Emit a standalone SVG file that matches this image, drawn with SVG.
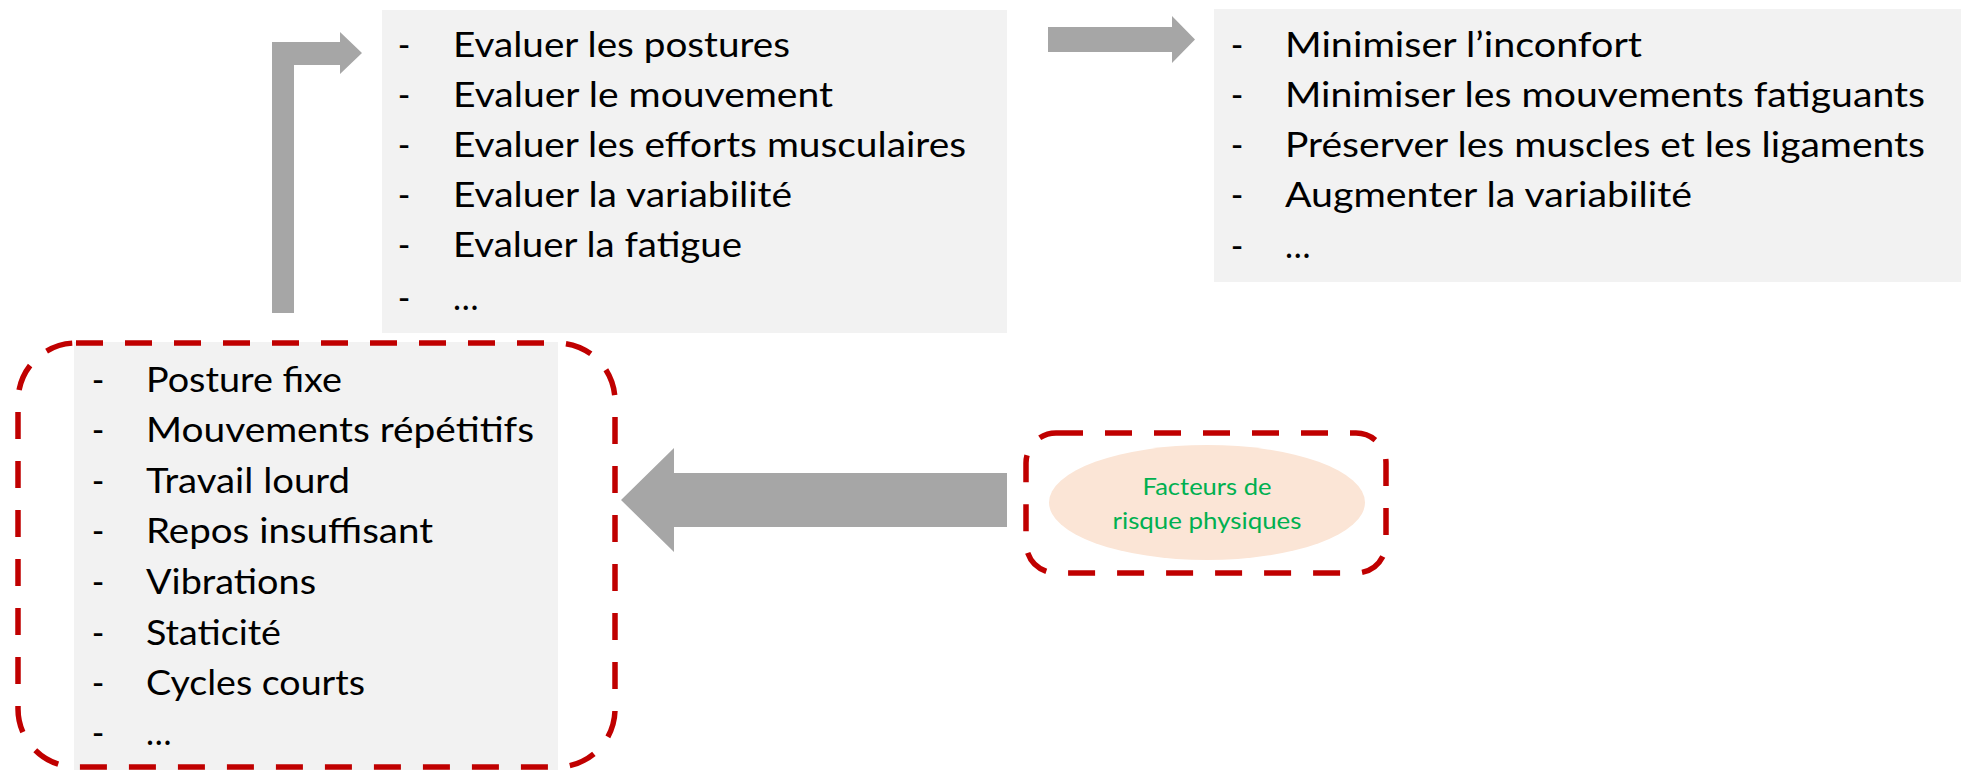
<svg xmlns="http://www.w3.org/2000/svg" width="1961" height="770" viewBox="0 0 1961 770">
  <style>
    .box { fill: #F2F2F2; }
    .frame { fill: none; stroke: #C00000; stroke-width: 5.5; stroke-dasharray: 27 22; }
    .arrow { fill: #A6A6A6; }
    .item { font-family: Lato, "Open Sans", "Liberation Sans", sans-serif; font-size: 34px; fill: #000; }
    .bullet { font-family: Lato, "Open Sans", "Liberation Sans", sans-serif; font-size: 34px; fill: #000; text-anchor: middle; }
    .label { font-family: Lato, "Open Sans", "Liberation Sans", sans-serif; font-size: 23px; fill: #00B050; text-anchor: middle; }
  </style>

  <!-- evaluation list -->
  <g id="evaluer">
    <rect class="box" x="382" y="10" width="625" height="323"/>
    <text class="bullet" x="404" y="57">-</text>
    <text class="bullet" x="404" y="107">-</text>
    <text class="bullet" x="404" y="157">-</text>
    <text class="bullet" x="404" y="207">-</text>
    <text class="bullet" x="404" y="257">-</text>
    <text class="bullet" x="404" y="310">-</text>
    <text class="item" x="453" y="57" textLength="337" lengthAdjust="spacingAndGlyphs">Evaluer les postures</text>
    <text class="item" x="453" y="107" textLength="380" lengthAdjust="spacingAndGlyphs">Evaluer le mouvement</text>
    <text class="item" x="453" y="157" textLength="513" lengthAdjust="spacingAndGlyphs">Evaluer les efforts musculaires</text>
    <text class="item" x="453" y="207" textLength="339" lengthAdjust="spacingAndGlyphs">Evaluer la variabilité</text>
    <text class="item" x="453" y="257" textLength="289" lengthAdjust="spacingAndGlyphs">Evaluer la fatigue</text>
    <text class="item" x="453" y="310">…</text>
  </g>

  <!-- goals list -->
  <g id="objectifs">
    <rect class="box" x="1214" y="9" width="747" height="273"/>
    <text class="bullet" x="1237" y="57">-</text>
    <text class="bullet" x="1237" y="107">-</text>
    <text class="bullet" x="1237" y="157">-</text>
    <text class="bullet" x="1237" y="207">-</text>
    <text class="bullet" x="1237" y="258">-</text>
    <text class="item" x="1285" y="57" textLength="357" lengthAdjust="spacingAndGlyphs">Minimiser l’inconfort</text>
    <text class="item" x="1285" y="107" textLength="640" lengthAdjust="spacingAndGlyphs">Minimiser les mouvements fatiguants</text>
    <text class="item" x="1285" y="157" textLength="640" lengthAdjust="spacingAndGlyphs">Préserver les muscles et les ligaments</text>
    <text class="item" x="1285" y="207" textLength="407" lengthAdjust="spacingAndGlyphs">Augmenter la variabilité</text>
    <text class="item" x="1285" y="258">…</text>
  </g>

  <!-- risk factor list -->
  <g id="facteurs-liste">
    <rect class="box" x="74" y="342" width="484" height="428"/>
    <rect class="frame" x="18" y="343" width="597" height="424" rx="58" ry="58"/>
    <text class="bullet" x="98" y="392">-</text>
    <text class="bullet" x="98" y="442">-</text>
    <text class="bullet" x="98" y="493">-</text>
    <text class="bullet" x="98" y="543">-</text>
    <text class="bullet" x="98" y="594">-</text>
    <text class="bullet" x="98" y="645">-</text>
    <text class="bullet" x="98" y="695">-</text>
    <text class="bullet" x="98" y="745">-</text>
    <text class="item" x="146" y="392" textLength="196" lengthAdjust="spacingAndGlyphs">Posture fixe</text>
    <text class="item" x="146" y="442" textLength="388" lengthAdjust="spacingAndGlyphs">Mouvements répétitifs</text>
    <text class="item" x="146" y="493" textLength="204" lengthAdjust="spacingAndGlyphs">Travail lourd</text>
    <text class="item" x="146" y="543" textLength="287" lengthAdjust="spacingAndGlyphs">Repos insuffisant</text>
    <text class="item" x="146" y="594" textLength="170" lengthAdjust="spacingAndGlyphs">Vibrations</text>
    <text class="item" x="146" y="645" textLength="135" lengthAdjust="spacingAndGlyphs">Staticité</text>
    <text class="item" x="146" y="695" textLength="219" lengthAdjust="spacingAndGlyphs">Cycles courts</text>
    <text class="item" x="146" y="745">…</text>
  </g>

  <!-- physical risk factors -->
  <g id="facteurs">
    <rect class="frame" x="1026" y="433" width="360" height="140" rx="30" ry="30"/>
    <ellipse cx="1207" cy="502.5" rx="158" ry="57.5" fill="#FBE5D6"/>
    <text class="label" x="1207" y="495" textLength="129" lengthAdjust="spacingAndGlyphs">Facteurs de</text>
    <text class="label" x="1207" y="529" textLength="189" lengthAdjust="spacingAndGlyphs">risque physiques</text>
  </g>

  <!-- block arrows -->
  <g id="connecteurs">
    <polygon class="arrow" points="272,313 272,42 340,42 340,32 362,53 340,74 340,65 294,65 294,313"/>
    <polygon class="arrow" points="1048,27 1172,27 1172,16 1195,39.5 1172,63 1172,52 1048,52"/>
    <polygon class="arrow" points="1007,473 674,473 674,448 621,500 674,552 674,527 1007,527"/>
  </g>
</svg>
